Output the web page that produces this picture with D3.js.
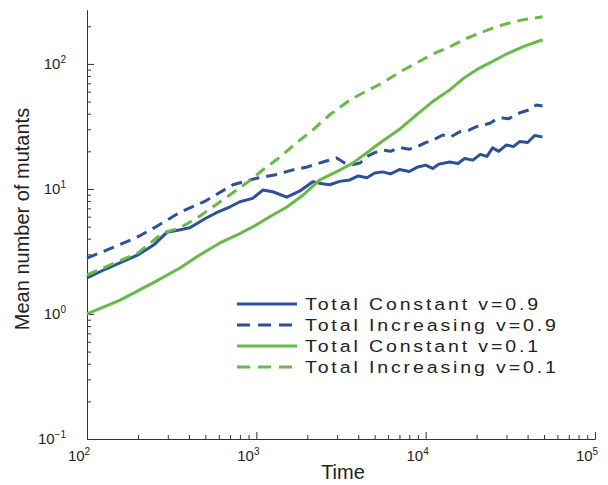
<!DOCTYPE html>
<html>
<head>
<meta charset="utf-8">
<script src="https://cdn.jsdelivr.net/npm/d3@7/dist/d3.min.js"></script>
<style>
    body { margin: 0; background: #fff; }
    svg text { font-family: "Liberation Sans", Arial, sans-serif; fill: #222; }
</style>
</head>
<body>
<svg id="chart" width="608" height="485"></svg>
<script>
// series (time, mean number of mutants)
var constHighT = [100, 130, 160, 200, 250, 296, 350, 405, 500, 600, 700, 800, 950, 1092, 1250, 1513, 1800, 2153, 2450, 2716,
    3100, 3565, 4000, 4500, 5000, 5575, 6200, 7000, 8000, 9000, 10000, 11000, 12000, 13860, 15500, 17000, 19000, 21000,
    23000, 24850, 27000, 30000, 33000, 36000, 40000, 44000, 49000];
var constHighV = [1.94, 2.3, 2.6, 2.97, 3.6, 4.5, 4.7, 4.9, 5.8, 6.6, 7.2, 7.9, 8.4, 9.8, 9.5, 8.6, 9.6, 11.4, 11.0, 10.8,
    11.5, 11.8, 12.7, 12.3, 13.4, 13.7, 13.2, 14.3, 13.8, 15.0, 15.5, 14.6, 15.8, 16.4, 16.0, 17.5, 17.0, 18.9,
    18.2, 21.3, 20.0, 22.5, 21.8, 24.0, 23.5, 26.8, 26.1];

var incHighT = [100, 150, 200, 250, 354, 500, 727, 1007, 1300, 1641, 2000, 2500, 2985, 3300, 3650, 4083, 4600, 5000, 5575,
    6200, 7000, 8000, 8850, 10000, 11000, 12600, 14000, 15850, 18000, 20000, 21700, 24000, 26000, 28400, 31000, 34000,
    37300, 41000, 45000, 49000];
var incHighV = [2.8, 3.5, 4.15, 4.9, 6.5, 8.0, 10.8, 12.2, 13.0, 14.2, 15.0, 16.5, 17.7, 16.2, 15.6, 16.1, 18.5, 19.5, 20.5,
    20.0, 21.5, 20.8, 21.7, 23.5, 24.5, 27.0, 26.0, 28.6, 29.5, 31.5, 32.5, 33.5, 36.0, 37.0, 36.5, 39.5,
    41.3, 43.0, 47.0, 46.1];

var constLowT = [100, 157, 250, 354, 450, 609, 800, 952, 1200, 1513, 1900, 2372, 3000, 3707, 4500, 5358, 7000, 9000, 11000,
    13870, 17000, 20000, 23900, 30000, 38000, 49000];
var constLowV = [1.0, 1.29, 1.8, 2.33, 2.9, 3.7, 4.4, 4.97, 6.0, 7.18, 9.0, 11.8, 13.8, 16.1, 19.5, 23.3, 30, 40, 50,
    62, 78, 90, 102, 120, 138, 156];

var incLowT = [100, 150, 200, 281, 354, 450, 553, 700, 879, 1100, 1377, 1700, 2153, 2700, 3565, 4500, 5575, 7000, 8850,
    11000, 13870, 17000, 21700, 26000, 31300, 38000, 49000];
var incLowV = [2.05, 2.6, 3.08, 4.45, 4.88, 5.9, 7.18, 9.0, 11.2, 14.3, 18, 23, 29.6, 39, 51.5, 61, 70.5, 86, 102,
    120, 137, 158, 180, 198, 213, 226, 238];

var seriesNames = ["Total Constant v=0.9", "Total Increasing v=0.9", "Total Constant v=0.1", "Total Increasing v=0.1"];
var xMajor = [1e2, 1e3, 1e4, 1e5], xExp = ["2", "3", "4", "5"];
var yMajor = [1e-1, 1e0, 1e1, 1e2], yExp = ["\u22121", "0", "1", "2"];

var blue = "#2d4f9e", green = "#66bb47";
var series = [
    {name: seriesNames[0], t: constHighT, v: constHighV, color: blue, dash: null},
    {name: seriesNames[1], t: incHighT, v: incHighV, color: blue, dash: "11,7"},
    {name: seriesNames[2], t: constLowT, v: constLowV, color: green, dash: null},
    {name: seriesNames[3], t: incLowT, v: incLowV, color: green, dash: "11,7"}
];

var svg = d3.select("#chart"),
    x = d3.scaleLog().domain([100, 1e5]).range([87, 595]),
    y = d3.scaleLog().domain([0.1, 270]).range([439, 10]);

function minors(lo, hi) {
    var out = [];
    for (var p = lo; p < hi; p++) {
        for (var k = 2; k <= 9; k++) out.push(k * Math.pow(10, p));
    }
    return out;
}
var xMinor = minors(2, 5), yMinor = minors(-1, 3).filter(function(d) { return d <= 270; });

// axes, ticks pointing inward
function styleAxis(g) {
    g.selectAll("path, line").attr("stroke", "#333").attr("stroke-width", 1);
    g.selectAll("text").remove();
}
svg.append("g").attr("transform", "translate(0,439)")
    .call(d3.axisBottom(x).tickValues(xMajor).tickSize(-7).tickSizeOuter(0)).call(styleAxis);
svg.append("g").attr("transform", "translate(0,439)")
    .call(d3.axisBottom(x).tickValues(xMinor).tickSize(-4).tickSizeOuter(0)).call(styleAxis);
svg.append("g").attr("transform", "translate(87,0)")
    .call(d3.axisLeft(y).tickValues(yMajor).tickSize(-7).tickSizeOuter(0)).call(styleAxis);
svg.append("g").attr("transform", "translate(87,0)")
    .call(d3.axisLeft(y).tickValues(yMinor).tickSize(-4).tickSizeOuter(0)).call(styleAxis);

// tick labels with exponents
function powerLabel(sel, exps) {
    sel.each(function(d, i) {
        var t = d3.select(this);
        t.append("tspan").text("10");
        t.append("tspan").attr("dy", -6).style("font-size", "10px").text(exps[i]);
    });
}
svg.selectAll(".xlab").data(xMajor).enter().append("text")
    .attr("class", "xlab")
    .attr("x", function(d) { return x(d) - 8; })
    .attr("y", 461)
    .attr("text-anchor", "middle")
    .style("font-size", "15px")
    .call(powerLabel, xExp);

svg.selectAll(".ylab").data(yMajor).enter().append("text")
    .attr("class", "ylab")
    .attr("x", 66)
    .attr("y", function(d) { return y(d) + 5; })
    .attr("text-anchor", "end")
    .style("font-size", "15px")
    .call(powerLabel, yExp);

svg.append("text")
    .attr("x", 343).attr("y", 479)
    .attr("text-anchor", "middle")
    .style("font-size", "20px")
    .text("Time");

svg.append("text")
    .attr("transform", "translate(29,219) rotate(-90)")
    .attr("text-anchor", "middle")
    .style("font-size", "20px")
    .text("Mean number of mutants");

// curves
var line = d3.line()
    .x(function(d) { return x(d[0]); })
    .y(function(d) { return y(d[1]); });

svg.selectAll(".curve").data(series).enter().append("path")
    .attr("class", "curve")
    .attr("d", function(s) { return line(d3.zip(s.t, s.v)); })
    .attr("fill", "none")
    .attr("stroke", function(s) { return s.color; })
    .attr("stroke-width", 3)
    .attr("stroke-dasharray", function(s) { return s.dash; })
    .attr("stroke-linejoin", "round");

// legend
var legend = svg.append("g").attr("transform", "translate(237,304)");
var rows = legend.selectAll("g").data(series).enter().append("g")
    .attr("transform", function(s, i) { return "translate(0," + (i * 21) + ")"; });
rows.append("line")
    .attr("x1", 0).attr("x2", 60)
    .attr("stroke", function(s) { return s.color; })
    .attr("stroke-width", 3)
    .attr("stroke-dasharray", function(s) { return s.dash ? "13,8" : null; });
rows.append("text")
    .attr("transform", "translate(68,6) scale(1.15,1)")
    .style("font-size", "17px")
    .style("letter-spacing", "2.5px")
    .text(function(s) { return s.name; });
</script>
</body>
</html>
